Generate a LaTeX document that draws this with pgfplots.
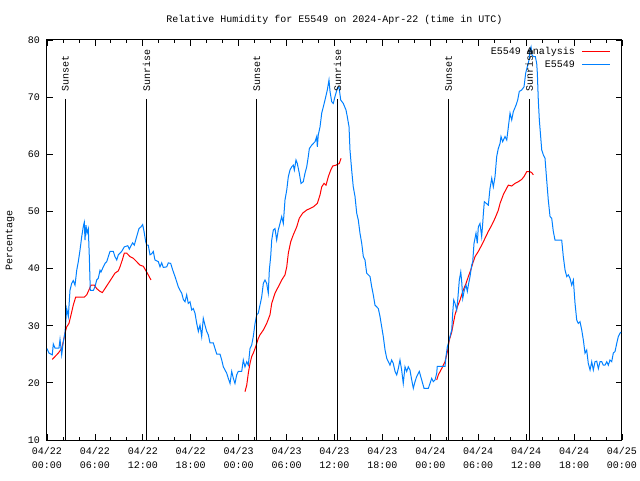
\documentclass[border=0pt]{standalone}
\usepackage{pgfplots}
\pgfplotsset{compat=1.18}
\usepackage{fontspec}
\setmainfont{Liberation Mono}
\definecolor{obsblue}{RGB}{0,128,255}
\begin{document}
\fontsize{10}{13}\selectfont
\begin{tikzpicture}
\useasboundingbox (0,0) rectangle (640pt,480pt);
\begin{axis}[
  at={(47pt,40pt)}, anchor=south west,
  scale only axis, width=575pt, height=400pt,
  xmin=0, xmax=72, ymin=10, ymax=80,
  xtick={0,6,...,72},
  xticklabels={{04/22\\00:00},{04/22\\06:00},{04/22\\12:00},{04/22\\18:00},{04/23\\00:00},{04/23\\06:00},{04/23\\12:00},{04/23\\18:00},{04/24\\00:00},{04/24\\06:00},{04/24\\12:00},{04/24\\18:00},{04/25\\00:00}},
  minor x tick num=2,
  ytick={10,20,...,80},
  /pgf/number format/assume math mode=true,
  tick align=inside,
  major tick length=6pt, minor tick length=3pt,
  every tick/.style={black, line width=0.8pt},
  axis line style={black, line width=1pt},
  tick label style={font=\fontsize{10}{13.5}\selectfont},
  xticklabel style={inner sep=0pt, yshift=-7.5pt, align=center},
  yticklabel style={inner sep=0pt, xshift=-7pt},
  ylabel={Percentage},
  ylabel style={at={(axis description cs:-0.0643,0.5)}, anchor=center, rotate=0, inner sep=0pt},
  title={Relative Humidity for E5549 on 2024-Apr-22 (time in UTC)},
  title style={at={(0.5,1)}, anchor=base, yshift=11pt, inner sep=0pt},
  legend style={draw=none, fill=none, at={(1,1)}, anchor=north east, xshift=-11pt, yshift=-5pt, inner sep=0pt, row sep=0.5pt, font=\fontsize{10}{13}\selectfont, /tikz/column 1/.style={column sep=5pt}},
  legend plot pos=right,
  legend cell align=right,
  legend image code/.code={\draw[#1] (0pt,0pt) -- (28pt,0pt);},
  clip=true,
]
% Analysis (red)
\addplot[red, line width=1pt] coordinates {
(0.66,24.1)(1.00,24.6)(1.41,25.2)(1.84,26.0)(2.04,27.2)(2.25,28.7)(2.47,29.8)(2.75,30.4)(3.01,31.9)(3.29,33.6)(3.59,35.0)(4.67,35.0)(4.97,35.4)(5.17,36.0)(5.51,37.1)(5.92,37.1)(6.22,36.5)(6.64,36.0)(6.93,35.8)(7.26,36.5)(7.68,37.4)(8.10,38.3)(8.51,39.2)(8.93,39.6)(9.14,40.3)(9.43,41.5)(9.68,42.7)(9.98,42.7)(10.39,42.1)(10.81,41.8)(11.23,41.2)(11.65,40.6)(12.06,40.4)(12.48,39.4)(12.68,38.9)(13.02,38.0)
};
\addlegendentry{E5549 Analysis}
\addplot[red, line width=1pt, forget plot] coordinates {
(24.79,18.45)(25.01,19.6)(25.21,21.7)(25.42,23.4)(25.63,24.6)(25.83,25.2)(26.05,26.0)(26.26,26.9)(26.46,27.8)(26.67,28.4)(27.09,29.25)(27.51,30.4)(27.92,31.9)(28.14,33.9)(28.55,35.7)(28.96,36.8)(29.39,38.0)(29.80,38.9)(30.02,40.3)(30.22,42.7)(30.52,44.7)(30.84,45.9)(31.27,47.3)(31.59,48.8)(32.02,49.7)(32.52,50.25)(32.93,50.5)(33.35,50.8)(33.85,51.4)(34.19,52.9)(34.40,54.3)(34.69,54.9)(34.94,54.6)(35.23,56.1)(35.53,57.25)(35.78,57.95)(36.19,58.1)(36.60,58.4)(36.82,59.3)
};
\addplot[red, line width=1pt, forget plot] coordinates {
(48.80,20.5)(49.00,21.4)(49.42,22.5)(49.84,23.7)(50.13,25.4)(50.38,27.5)(50.68,28.9)(50.88,30.4)(51.09,31.9)(51.38,33.3)(51.72,34.5)(51.93,35.4)(52.13,36.25)(52.47,37.4)(52.76,38.6)(53.06,39.75)(53.31,40.9)(53.60,42.1)(54.01,43.0)(54.43,44.1)(54.85,45.3)(55.26,46.5)(55.69,47.6)(56.10,48.8)(56.51,50.2)(56.73,51.4)(57.16,53.0)(57.57,54.1)(57.77,54.6)(58.19,54.45)(58.60,54.9)(59.02,55.2)(59.44,55.6)(59.73,56.1)(60.07,56.95)(60.48,56.95)(60.69,56.8)(60.90,56.4)
};
% Observations (blue)
\addplot[obsblue, line width=1pt] coordinates {
(0.00,26.0)(0.25,25.2)(0.66,24.9)(0.79,26.8)(1.00,26.1)(1.50,26.1)(1.63,27.6)(1.84,24.9)(2.04,27.2)(2.25,28.7)(2.47,33.0)(2.67,31.6)(2.88,36.2)(3.09,37.4)(3.29,37.9)(3.51,37.1)(3.72,39.7)(3.92,41.2)(4.13,43.2)(4.35,45.6)(4.55,47.4)(4.67,48.1)(4.76,45.0)(4.88,47.6)(5.01,46.2)(5.17,47.0)(5.30,42.1)(5.42,36.2)(5.80,36.2)(6.01,36.8)(6.22,38.0)(6.42,38.3)(6.64,39.7)(6.76,39.4)(7.05,40.3)(7.26,40.9)(7.48,41.2)(7.68,42.1)(7.89,43.0)(8.30,43.0)(8.51,42.1)(8.73,41.5)(8.93,42.4)(9.35,43.0)(9.68,43.8)(10.11,44.0)(10.31,43.4)(10.52,44.0)(10.73,44.5)(10.93,44.1)(11.23,45.6)(11.52,47.0)(11.77,47.3)(11.98,47.7)(12.15,46.5)(12.36,44.7)(12.48,44.1)(12.68,44.1)(12.90,42.4)(13.11,42.6)(13.31,43.0)(13.52,41.5)(13.94,41.2)(14.15,40.3)(14.36,41.0)(14.56,40.2)(14.99,40.3)(15.19,41.0)(15.49,40.9)(15.74,39.75)(16.03,38.6)(16.24,37.7)(16.44,36.8)(16.65,36.2)(16.87,35.7)(17.07,34.6)(17.28,34.2)(17.49,35.4)(17.69,33.9)(17.91,34.2)(18.12,32.75)(18.32,33.0)(18.53,32.2)(18.75,30.4)(18.95,29.0)(19.16,30.1)(19.37,28.1)(19.57,31.3)(19.78,30.1)(20.00,29.0)(20.20,28.4)(20.41,27.0)(20.82,27.0)(21.04,26.0)(21.25,25.05)(21.66,25.05)(21.88,24.0)(22.08,22.8)(22.29,22.25)(22.50,21.7)(22.70,20.8)(22.92,19.9)(23.13,22.0)(23.33,20.8)(23.54,19.9)(23.75,21.4)(23.95,22.0)(24.38,22.0)(24.58,24.0)(24.79,22.8)(25.01,23.7)(25.21,23.1)(25.42,26.0)(25.63,26.6)(25.83,28.1)(26.05,30.4)(26.26,31.9)(26.46,32.2)(26.67,33.6)(26.88,35.0)(27.09,37.4)(27.30,38.0)(27.51,37.4)(27.71,35.7)(27.84,39.75)(28.01,42.1)(28.14,45.0)(28.34,46.75)(28.55,47.0)(28.76,45.0)(28.96,46.75)(29.18,47.9)(29.39,49.1)(29.59,47.9)(29.80,52.0)(30.02,53.75)(30.22,56.1)(30.43,57.25)(30.64,57.8)(30.84,58.1)(30.97,57.25)(31.18,59.0)(31.34,58.4)(31.59,56.7)(31.81,54.9)(32.09,55.2)(32.31,56.7)(32.52,57.8)(32.72,59.6)(32.85,61.0)(33.15,61.6)(33.56,62.2)(33.77,63.1)(33.85,61.3)(33.97,63.4)(34.19,64.8)(34.40,67.2)(34.60,68.3)(34.81,69.5)(35.10,71.25)(35.31,73.0)(35.44,71.0)(35.65,69.2)(35.85,68.9)(36.06,70.1)(36.35,71.5)(36.56,71.8)(36.78,69.5)(37.10,68.9)(37.44,67.75)(37.60,66.6)(37.82,64.8)(37.94,60.75)(38.15,57.25)(38.35,54.3)(38.57,52.6)(38.78,49.7)(38.98,48.5)(39.19,46.2)(39.41,44.4)(39.61,42.1)(39.82,41.5)(40.03,39.2)(40.45,38.6)(40.66,36.8)(40.86,35.4)(41.07,33.6)(41.49,33.0)(41.70,31.6)(41.91,29.8)(42.11,28.1)(42.33,25.75)(42.54,24.3)(42.74,23.7)(42.95,23.1)(43.16,24.0)(43.36,23.4)(43.58,22.0)(43.79,21.4)(43.99,22.5)(44.20,24.0)(44.41,22.25)(44.61,19.9)(44.83,22.8)(45.04,22.0)(45.24,22.8)(45.45,22.25)(45.67,20.5)(45.87,19.05)(46.08,20.2)(46.29,21.1)(46.62,22.0)(46.92,20.5)(47.21,19.05)(47.75,19.05)(47.96,19.9)(48.17,20.8)(48.37,20.2)(48.59,20.5)(48.80,21.7)(48.87,22.9)(49.84,22.9)(49.96,24.6)(50.13,26.3)(50.25,26.9)(50.46,28.1)(50.68,29.25)(50.80,32.2)(50.93,34.5)(51.09,33.9)(51.30,32.75)(51.43,34.5)(51.63,38.0)(51.81,39.4)(51.93,37.7)(52.06,34.8)(52.26,36.25)(52.47,37.1)(52.63,36.0)(52.76,37.1)(52.97,38.6)(53.18,40.6)(53.31,41.2)(53.47,44.4)(53.72,46.2)(53.88,44.4)(54.01,47.3)(54.22,47.9)(54.43,45.6)(54.56,47.9)(54.63,49.4)(54.76,51.7)(55.26,51.1)(55.47,54.0)(55.69,55.8)(55.89,54.3)(56.10,56.1)(56.31,59.6)(56.51,61.0)(56.73,61.9)(56.85,63.1)(57.06,62.2)(57.35,63.1)(57.57,62.5)(57.77,64.8)(57.98,67.2)(58.19,66.0)(58.39,67.45)(58.73,68.6)(58.94,69.5)(59.14,71.0)(59.44,71.25)(59.73,71.8)(59.94,74.2)(60.14,75.3)(60.36,76.5)(60.48,78.25)(60.61,78.8)(60.73,77.4)(60.90,77.1)(61.15,77.1)(61.32,75.9)(61.40,74.2)(61.52,69.5)(61.65,66.0)(61.95,60.75)(62.15,59.9)(62.36,59.3)(62.57,55.5)(62.77,52.0)(62.99,49.1)(63.20,48.8)(63.40,46.5)(63.61,45.0)(64.45,45.0)(64.65,42.1)(64.87,39.75)(65.08,38.6)(65.28,38.9)(65.49,38.3)(65.70,37.1)(65.91,38.0)(66.12,33.9)(66.33,31.0)(66.53,30.4)(66.74,30.7)(66.96,29.25)(67.16,27.5)(67.37,25.2)(67.58,25.75)(67.78,23.4)(68.00,22.25)(68.21,23.7)(68.41,22.25)(68.62,23.7)(68.83,23.8)(69.04,22.5)(69.25,23.7)(69.46,23.7)(69.66,23.1)(69.87,23.1)(70.09,23.7)(70.29,23.1)(70.50,24.0)(70.71,23.7)(70.91,25.2)(71.13,25.5)(71.34,26.9)(71.54,28.1)(71.75,28.7)(71.87,28.9)
};
\addlegendentry{E5549}
% Sunset / Sunrise markers
\addplot[black, line width=1pt, forget plot] coordinates {(2.29,69.7)(2.29,10)};
\addplot[black, line width=1pt, forget plot] coordinates {(12.48,69.7)(12.48,10)};
\addplot[black, line width=1pt, forget plot] coordinates {(26.26,69.7)(26.26,10)};
\addplot[black, line width=1pt, forget plot] coordinates {(36.38,69.7)(36.38,10)};
\addplot[black, line width=1pt, forget plot] coordinates {(50.30,69.7)(50.30,10)};
\addplot[black, line width=1pt, forget plot] coordinates {(60.40,69.7)(60.40,10)};
\node[rotate=90, anchor=west, inner sep=0pt] at (axis cs:2.29,71.0) {Sunset};
\node[rotate=90, anchor=west, inner sep=0pt] at (axis cs:12.48,71.0) {Sunrise};
\node[rotate=90, anchor=west, inner sep=0pt] at (axis cs:26.26,71.0) {Sunset};
\node[rotate=90, anchor=west, inner sep=0pt] at (axis cs:36.38,71.0) {Sunrise};
\node[rotate=90, anchor=west, inner sep=0pt] at (axis cs:50.30,71.0) {Sunset};
\node[rotate=90, anchor=west, inner sep=0pt] at (axis cs:60.40,71.0) {Sunrise};
\end{axis}
\end{tikzpicture}
\end{document}
